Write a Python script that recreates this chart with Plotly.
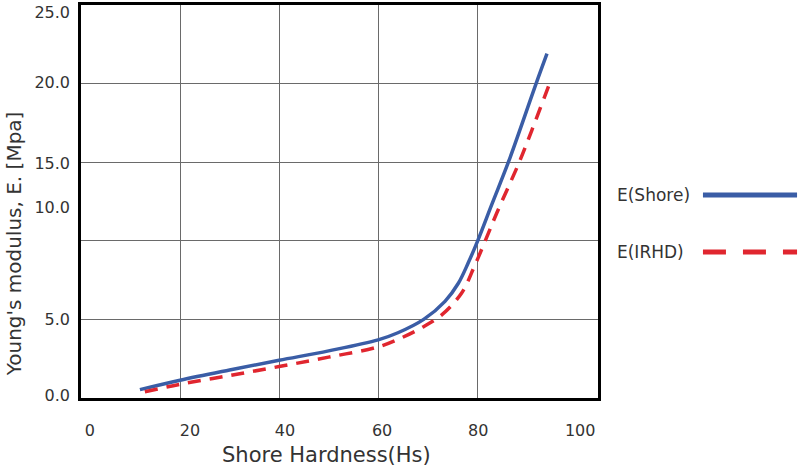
import plotly.graph_objects as go

# Data
shore_x = [11.9, 20, 30, 40, 50, 60, 64, 69.2, 73.5, 76.2, 78.2, 80.1, 83, 86.3, 91.9, 94.1]
shore_y = [0.53, 1.13, 1.78, 2.4, 3.0, 3.7, 4.15, 5.0, 6.15, 7.3, 8.6, 10.0, 12.35, 15.0, 20.0, 21.9]
irhd_x = [12.9, 20, 30, 40, 50, 60, 64.8, 68.8, 72.9, 76.9, 79.3, 81.3, 84, 88.5, 91, 94.5]
irhd_y = [0.4, 0.87, 1.43, 2.0, 2.6, 3.25, 3.84, 4.47, 5.3, 6.7, 8.27, 9.75, 11.8, 15.0, 17.0, 19.9]
series_names = ["E(Shore)", "E(IRHD)"]
series_colors = ["#3a5da6", "#e0262f"]

x_label_pos = [1.8, 22.0, 41.2, 60.8, 80.2, 100.8]
x_tick_text = ["0", "20", "40", "60", "80", "100"]
x_grid_vals = [20, 40, 60, 80]
y_grid_vals = [0, 5, 10, 15, 20, 25]
y_label_pos = [0.15, 5, 12.1, 14.9, 20.1, 24.5]
y_label_text = ["0.0", "5.0", "10.0", "15.0", "20.0", "25.0"]

FONT = "DejaVu Sans"
TXT = "#333333"
fig = go.Figure()
fig.add_trace(go.Scatter(x=shore_x, y=shore_y, mode="lines", name=series_names[0],
                         line=dict(color=series_colors[0], width=3.5, shape="spline", smoothing=1)))
fig.add_trace(go.Scatter(x=irhd_x, y=irhd_y, mode="lines", name=series_names[1],
                         line=dict(color=series_colors[1], width=3.5, shape="spline", smoothing=1,
                                   dash="13px,9px")))
# invisible trace to anchor label axes
fig.add_trace(go.Scatter(x=[None], y=[None], xaxis="x2", yaxis="y2", showlegend=False))

fig.update_layout(
    width=800, height=467,
    margin=dict(l=81, r=202, t=5, b=69, autoexpand=False),
    paper_bgcolor="white", plot_bgcolor="white",
    showlegend=False,
    font=dict(family=FONT, color=TXT, size=16),
    xaxis=dict(range=[0, 104.4], tickvals=x_grid_vals, showticklabels=False, ticks="",
               showgrid=True, gridcolor="#6a6a6a", gridwidth=1.2, zeroline=False, automargin=False,
               showline=True, linecolor="black", linewidth=3, mirror=True),
    yaxis=dict(range=[0, 25], tickvals=y_grid_vals, showticklabels=False, ticks="",
               showgrid=True, gridcolor="#6a6a6a", gridwidth=1.2, zeroline=False, automargin=False,
               showline=True, linecolor="black", linewidth=3, mirror=True),
    xaxis2=dict(range=[0, 104.4], overlaying="x", side="bottom", anchor="y2", automargin=False,
                tickvals=x_label_pos, ticktext=x_tick_text, showgrid=False, zeroline=False,
                ticks="", ticklabelstandoff=21, tickfont=dict(size=16, color=TXT, family=FONT)),
    yaxis2=dict(range=[0, 25], overlaying="y", side="left", anchor="x2", automargin=False,
                tickvals=y_label_pos, ticktext=y_label_text, showgrid=False, zeroline=False,
                ticks="", ticklabelstandoff=10, tickfont=dict(size=16, color=TXT, family=FONT)),
)

# Axis titles
fig.add_annotation(x=0.474, y=-0.11, xref="paper", yref="paper", text="Shore Hardness(Hs)",
                   showarrow=False, xanchor="center", yanchor="top",
                   font=dict(size=21, color=TXT, family=FONT))
fig.add_annotation(x=-0.13, y=0.393, xref="paper", yref="paper", text="Young's modulus, E. [Mpa]",
                   showarrow=False, textangle=-90, xanchor="center", yanchor="middle",
                   font=dict(size=20, color=TXT, family=FONT))

# Legend drawn manually (text before the line sample)
leg_y = [0.5165, 0.3715]
for name, color, yy, dash in zip(series_names, series_colors, leg_y, ["solid", "23px,17px"]):
    fig.add_annotation(x=1.033, y=yy, xref="paper", yref="paper", text=name, showarrow=False,
                       xanchor="left", yanchor="middle", font=dict(size=17, color=TXT, family=FONT))
    fig.add_shape(type="line", xref="paper", yref="paper", x0=1.203, x1=1.385, y0=yy, y1=yy,
                  line=dict(color=color, width=5, dash=dash))

fig.write_html("out.html", config={"displayModeBar": False},
               post_script="document.body.style.margin='0';document.body.style.overflow='hidden';")
